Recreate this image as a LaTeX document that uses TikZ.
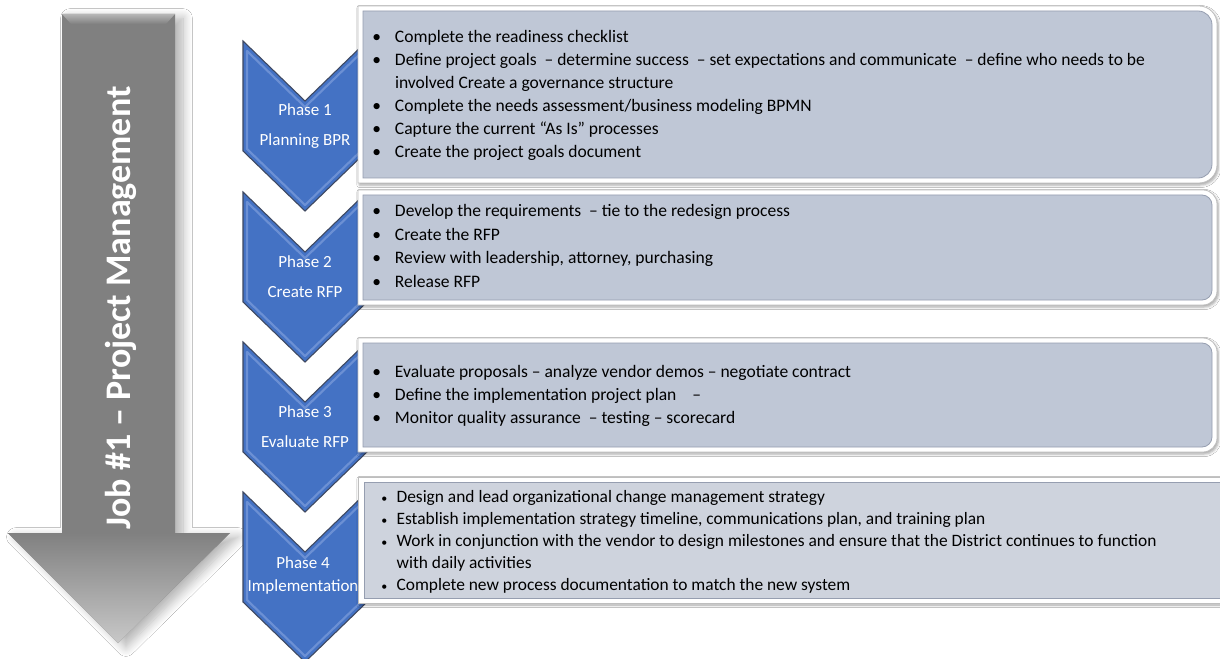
\documentclass[tikz,border=0pt]{standalone}
\usepackage{fontspec}
\setmainfont{Carlito}
\usetikzlibrary{shadows.blur}

\definecolor{azulfase}{RGB}{68,114,196}
\definecolor{azulclaro}{RGB}{118,152,216}
\definecolor{bordefase}{RGB}{62,72,96}
\definecolor{grisflecha}{RGB}{128,128,128}
\definecolor{grisbisel}{RGB}{182,182,182}
\definecolor{grispunta}{RGB}{200,200,200}
\definecolor{fondocuadro}{RGB}{191,199,214}
\definecolor{fondocuadrob}{RGB}{206,211,221}
\definecolor{bordecuadro}{RGB}{190,190,190}
\definecolor{bordeinterior}{RGB}{150,158,176}

\begin{document}
\begin{tikzpicture}[x=0.75pt,y=-0.75pt,
    fase/.style={fill=azulfase,draw=bordefase,line width=0.8,line join=miter},
    bisel/.style={draw=azulclaro,line width=1.6,line join=round,opacity=0.8},
    etiqueta/.style={text=white,align=center,inner sep=0pt,font=\fontsize{12.75}{22.5}\selectfont},
    marco/.style={fill=white,draw=bordecuadro,line width=0.6,
        blur shadow={shadow xshift=1pt,shadow yshift=-1.5pt,shadow blur steps=4,shadow opacity=35}},
    fondo/.style={fill=fondocuadro,draw=bordeinterior,line width=0.6},
    lista/.style={anchor=base west,inner sep=0pt,font=\fontsize{13.15}{17.25}\selectfont}]

    \fill[white] (0,0) rectangle (1220,659);
    \useasboundingbox (0,0) rectangle (1220,659);

    % Flecha
    \path[fill=grisflecha,blur shadow={shadow xshift=6pt,shadow yshift=-3pt,shadow blur radius=7pt,shadow blur steps=10,shadow opacity=30}]
        (62,14) -- (175,14) -- (175,533) -- (230,533) -- (118,643) -- (8,533) -- (62,533) -- cycle;
    \path[top color=grisflecha,bottom color=grispunta] (8,533) -- (230,533) -- (118,643) -- cycle;
    \path[top color=grisbisel,bottom color=grisflecha] (62,14) -- (175,14) -- (166,24) -- (71,24) -- cycle;
    \node[rotate=90,text=white,font=\bfseries\fontsize{27}{27}\selectfont] (titulo) at (121,308) {Job \#1 – Project Management};

    % Fases
    \draw[fase] (243,41) -- (305,101) -- (367,41) -- (367,151) -- (305,211) -- (243,151) -- cycle;
    \draw[bisel] (247,51) -- (305,107) -- (363,51) -- (363,149) -- (305,205) -- (247,149) -- cycle;
    \node[etiqueta] (fase1) at (305,126) {Phase 1\\Planning BPR};

    \draw[fase] (243,192) -- (305,252) -- (367,192) -- (367,302) -- (305,362) -- (243,302) -- cycle;
    \draw[bisel] (247,202) -- (305,258) -- (363,202) -- (363,300) -- (305,356) -- (247,300) -- cycle;
    \node[etiqueta] (fase2) at (305,277) {Phase 2\\Create RFP};

    \draw[fase] (243,342) -- (305,402) -- (367,342) -- (367,452) -- (305,512) -- (243,452) -- cycle;
    \draw[bisel] (247,352) -- (305,408) -- (363,352) -- (363,450) -- (305,506) -- (247,450) -- cycle;
    \node[etiqueta] (fase3) at (305,427) {Phase 3\\Evaluate RFP};

    \draw[fase] (243,492) -- (305,552) -- (367,492) -- (367,602) -- (305,662) -- (243,602) -- cycle;
    \draw[bisel] (247,502) -- (305,558) -- (363,502) -- (363,600) -- (305,656) -- (247,600) -- cycle;
    \node[etiqueta,font=\fontsize{12.75}{17.25}\selectfont] (fase4) at (303,575) {Phase 4\\Implementation};

    % Cuadros
    \path[marco] (358,6) -- (1199,6) arc[start angle=270,end angle=360,radius=18] -- (1217,165) arc[start angle=0,end angle=90,radius=18] -- (358,183) -- cycle;
    \path[fondo] (363,11) -- (1198,11) arc[start angle=270,end angle=360,radius=14] -- (1212,164) arc[start angle=0,end angle=90,radius=14] -- (363,178) -- cycle;
    \node[lista] (tareas1) at (372,43) {\begin{tabular}[t]{@{}l@{\hspace{10.5pt}}l@{}}
        \textbullet & Complete the readiness checklist\\
        \textbullet & Define project goals~ – determine success~ – set expectations and communicate~ – define who needs to be\\
                    & involved Create a governance structure\\
        \textbullet & Complete the needs assessment/business modeling BPMN\\
        \textbullet & Capture the current “As Is” processes\\
        \textbullet & Create the project goals document
    \end{tabular}};

    \path[marco] (358,190) -- (1203,190) arc[start angle=270,end angle=360,radius=14] -- (1217,291) arc[start angle=0,end angle=90,radius=14] -- (358,305) -- cycle;
    \path[fondo] (363,195) -- (1202,195) arc[start angle=270,end angle=360,radius=10] -- (1212,290) arc[start angle=0,end angle=90,radius=10] -- (363,300) -- cycle;
    \node[lista,font=\fontsize{13.15}{17.6}\selectfont] (tareas2) at (372,217) {\begin{tabular}[t]{@{}l@{\hspace{10.5pt}}l@{}}
        \textbullet & Develop the requirements~ – tie to the redesign process\\
        \textbullet & Create the RFP\\
        \textbullet & Review with leadership, attorney, purchasing\\
        \textbullet & Release RFP
    \end{tabular}};

    \path[marco] (358,338) -- (1203,338) arc[start angle=270,end angle=360,radius=14] -- (1217,438) arc[start angle=0,end angle=90,radius=14] -- (358,452) -- cycle;
    \path[fondo] (363,343) -- (1202,343) arc[start angle=270,end angle=360,radius=10] -- (1212,437) arc[start angle=0,end angle=90,radius=10] -- (363,447) -- cycle;
    \node[lista] (tareas3) at (372,377) {\begin{tabular}[t]{@{}l@{\hspace{10.5pt}}l@{}}
        \textbullet & Evaluate proposals – analyze vendor demos – negotiate contract\\
        \textbullet & Define the implementation project plan~ ~ –\\
        \textbullet & Monitor quality assurance~ – testing – scorecard
    \end{tabular}};

    \path[marco] (358,477) rectangle (1235,603);
    \path[fondo,fill=fondocuadrob] (364,482) rectangle (1235,598);
    \node[lista,font=\fontsize{13.05}{16.5}\selectfont] (tareas4) at (381,502) {\begin{tabular}[t]{@{}l@{\hspace{7pt}}l@{}}
        {\fontsize{9}{9}\selectfont\textbullet} & Design and lead organizational change management strategy\\
        {\fontsize{9}{9}\selectfont\textbullet} & Establish implementation strategy timeline, communications plan, and training plan\\
        {\fontsize{9}{9}\selectfont\textbullet} & Work in conjunction with the vendor to design milestones and ensure that the District continues to function\\
                                                & with daily activities\\
        {\fontsize{9}{9}\selectfont\textbullet} & Complete new process documentation to match the new system
    \end{tabular}};
\end{tikzpicture}
\end{document}
